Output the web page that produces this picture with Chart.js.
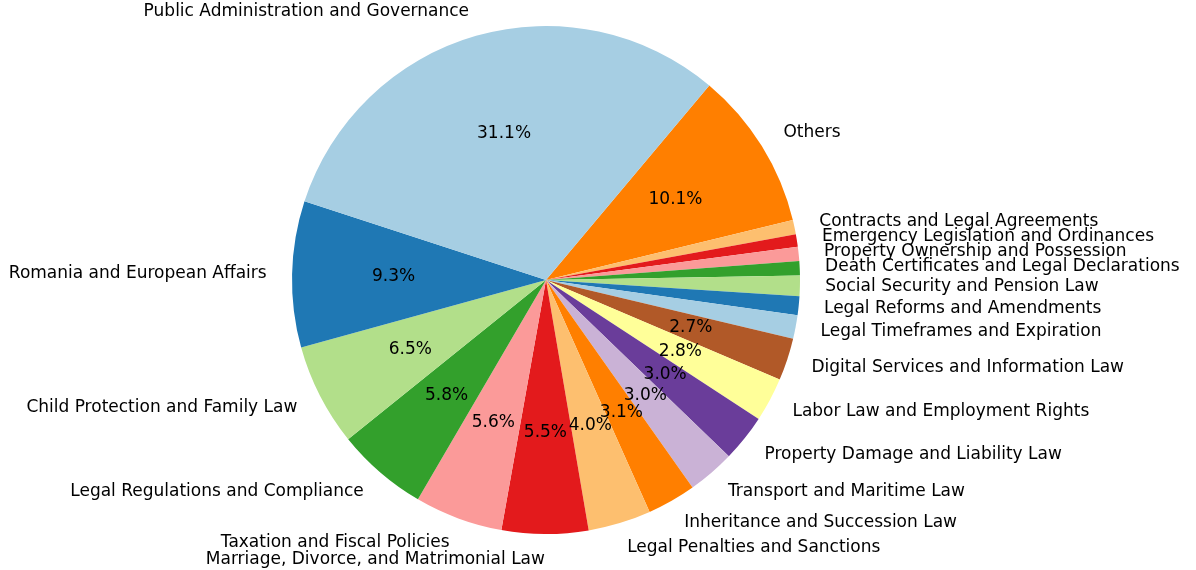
<!DOCTYPE html>
<html>
<head>
<meta charset="utf-8">
<script src="https://cdn.jsdelivr.net/npm/chart.js@4.4.0/dist/chart.umd.min.js"></script>
<style>
  body { margin: 0; background: #fff; }
</style>
</head>
<body>
<canvas id="pieChart" width="1196" height="570"></canvas>
<script>
// data, in the order of the original pie (counterclockwise)
const categories = [
  'Public Administration and Governance',
  'Romania and European Affairs',
  'Child Protection and Family Law',
  'Legal Regulations and Compliance',
  'Taxation and Fiscal Policies',
  'Marriage, Divorce, and Matrimonial Law',
  'Legal Penalties and Sanctions',
  'Inheritance and Succession Law',
  'Transport and Maritime Law',
  'Property Damage and Liability Law',
  'Labor Law and Employment Rights',
  'Digital Services and Information Law',
  'Legal Timeframes and Expiration',
  'Legal Reforms and Amendments',
  'Social Security and Pension Law',
  'Death Certificates and Legal Declarations',
  'Property Ownership and Possession',
  'Emergency Legislation and Ordinances',
  'Contracts and Legal Agreements',
  'Others'
];
const shares = [31.1, 9.3, 6.5, 5.8, 5.6, 5.5, 4.0, 3.1, 3.0, 3.0, 2.8, 2.7,
                1.5, 1.2, 1.3, 0.9, 0.9, 0.8, 0.9, 10.1];

const paired = ['#a6cee3', '#1f78b4', '#b2df8a', '#33a02c', '#fb9a99', '#e31a1c',
                '#fdbf6f', '#ff7f00', '#cab2d6', '#6a3d9a', '#ffff99', '#b15928'];
const colors = categories.map((c, i) => paired[i % paired.length]);

const labelFont = '17px "DejaVu Sans"';

// chart.js goes clockwise, so feed it reversed
const labels = categories.slice().reverse();
const values = shares.slice().reverse();
const bg = colors.slice().reverse();

const outsideLabels = {
  id: 'outsideLabels',
  afterDatasetsDraw(chart) {
    const ctx = chart.ctx;
    const meta = chart.getDatasetMeta(0);
    const data = chart.data.datasets[0].data;
    const total = data.reduce((a, b) => a + b, 0);
    ctx.save();
    ctx.font = labelFont;
    ctx.fillStyle = '#000';
    ctx.textBaseline = 'middle';
    meta.data.forEach((arc, i) => {
      const p = arc.getProps(['x', 'y', 'startAngle', 'endAngle', 'outerRadius'], true);
      const mid = (p.startAngle + p.endAngle) / 2;
      const cos = Math.cos(mid), sin = Math.sin(mid);
      ctx.textAlign = cos >= 0 ? 'left' : 'right';
      ctx.fillText(chart.data.labels[i], p.x + cos * p.outerRadius * 1.1, p.y + sin * p.outerRadius * 1.1);
      const pct = data[i] / total * 100;
      if (pct > 2.5) {
        ctx.textAlign = 'center';
        ctx.fillText(pct.toFixed(1) + '%', p.x + cos * p.outerRadius * 0.6, p.y + sin * p.outerRadius * 0.6);
      }
    });
    ctx.restore();
  }
};

new Chart(document.getElementById('pieChart'), {
  type: 'pie',
  data: {
    labels,
    datasets: [{
      data: values,
      backgroundColor: bg,
      borderWidth: 0,
      hoverOffset: 0,
      offset: 0
    }]
  },
  options: {
    responsive: false,
    animation: false,
    rotation: 40,
    layout: { padding: { top: 26, bottom: 36, left: 292, right: 396 } },
    plugins: {
      legend: { display: false },
      tooltip: { enabled: false }
    }
  },
  plugins: [outsideLabels]
});
</script>
</body>
</html>
